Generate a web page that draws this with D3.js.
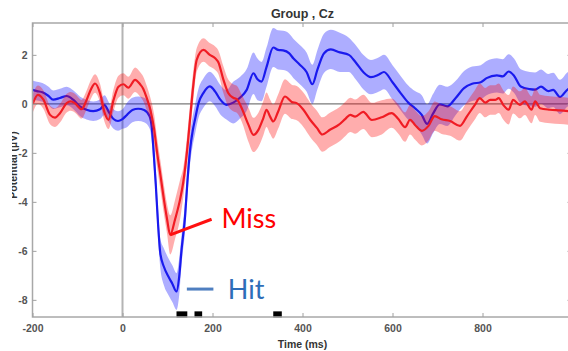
<!DOCTYPE html>
<html><head><meta charset="utf-8">
<script src="https://cdn.jsdelivr.net/npm/d3@7"></script>
<style>body{margin:0;background:#fff}svg{display:block}</style>
</head><body>
<svg id="c" width="568" height="351"></svg>
<script>
// ---- data ----
const hitTime = [-200,-190,-178,-165,-154,-139,-124,-109,
  -94,-80,-65,-50,-40,-30,-20,-10,0,
  10,22,35,48,60,
  65,69,74,79,84,
  92,102,111,120,126,
  131,139,144,150,156,161,
  169,180,194,206,217,231,
  246,261,276,291,300,
  309,320,335,346,357,370,380,394,409,422,433,448,463,483,
  503,518,535,552,570,581,600,618,635,650,
  665,677,690,705,722,
  740,759,777,796,809,832,845,858,870,885,905,917,930,946,957,972,990,1000];
const hitMean = [0.57,0.52,0.47,0.33,0.17,0.24,0.32,0.16,
  -0.11,-0.24,-0.30,-0.22,-0.05,-0.35,-0.62,-0.70,-0.62,
  -0.45,-0.25,-0.20,-0.25,-0.50,
  -0.95,-1.9,-3.3,-4.9,-6.1,
  -6.65,-7.05,-7.35,-7.66,-7.05,
  -6.0,-4.6,-3.24,-1.9,-1.1,-0.65,
  0.03,0.45,0.71,0.50,0.18,-0.04,
  0.05,0.25,0.57,1.25,1.00,
  0.91,1.50,2.30,2.20,2.18,2.07,1.85,1.60,1.30,0.80,1.39,2.07,2.22,2.10,
  2.00,1.70,1.30,1.09,1.20,1.30,0.88,0.44,0.05,-0.18,
  -0.45,-0.82,-0.40,-0.02,-0.10,
  0.23,0.64,0.82,0.88,1.05,1.16,1.12,1.32,1.15,0.71,0.60,0.58,0.70,0.52,0.57,0.28,0.60,0.65];
const hitErr = [0.38,0.38,0.38,0.38,0.38,0.38,0.38,0.38,
  0.4,0.4,0.4,0.4,0.4,0.4,0.4,0.4,0.4,
  0.5,0.5,0.5,0.5,0.5,
  0.6,0.6,0.6,0.6,0.6,
  0.75,0.75,0.75,0.75,0.75,
  0.6,0.6,0.6,0.6,0.6,0.6,
  0.6,0.6,0.6,0.6,0.6,0.6,
  0.85,0.85,0.85,0.85,0.85,
  0.8,0.8,0.8,0.8,0.8,0.8,0.8,0.8,0.8,0.8,0.8,0.8,0.8,0.8,
  0.7,0.7,0.7,0.7,0.7,0.7,0.7,0.7,0.7,0.7,
  0.8,0.8,0.8,0.8,0.8,
  0.7,0.7,0.7,0.7,0.7,0.7,0.7,0.7,0.7,0.7,0.7,0.7,0.7,0.7,0.7,0.7,0.7,0.7];

const missTime = [-200,-188,-176,-161,-150,-139,-124,-115,-106,-91,
  -80,-70,-61,-50,-40,-31,-20,-9,2,13,
  28,39,46,54,62,70,77,85,92,99,
  106,117,128,135,143,150,157,165,180,194,
  206,213,224,235,246,254,265,280,291,302,
  313,320,328,335,346,361,376,387,402,417,
  432,444,461,481,496,506,517,535,554,576,
  598,613,628,639,650,665,680,694,709,728,
  750,765,783,794,806,817,828,836,846,858,
  868,883,894,909,917,928,950,972,1000];
const missMean = [-0.02,0.37,0.18,-0.45,-0.56,-0.38,0.03,0.10,0.03,-0.22,
  0.15,0.60,0.83,0.44,-0.35,-0.65,0.15,0.70,0.80,0.66,
  0.98,0.80,0.62,0.23,-0.25,-1.0,-2.0,-3.0,-3.9,-4.7,
  -5.35,-4.7,-3.9,-3.2,-2.0,-0.65,0.70,1.80,2.20,2.00,
  1.86,1.70,1.00,0.44,0.25,0.19,-0.18,-0.86,-1.27,-1.06,
  -0.58,-0.24,-0.52,-0.72,-0.31,0.30,0.08,0.03,-0.24,-0.65,
  -0.98,-1.25,-1.06,-0.85,-0.60,-0.45,-0.52,-0.33,-0.66,-0.55,
  -0.38,-0.62,-0.95,-0.65,-0.86,-1.10,-0.90,-0.50,-0.63,-0.70,
  -0.90,-0.52,-0.04,0.23,0.05,0.16,0.16,0.23,-0.04,-0.24,
  0.16,-0.04,0.10,-0.24,0.10,-0.18,-0.24,-0.27,-0.32];
const missErr = [0.38,0.38,0.38,0.38,0.38,0.38,0.38,0.38,0.38,0.38,
  0.38,0.38,0.38,0.38,0.38,0.38,0.45,0.45,0.45,0.45,
  0.5,0.5,0.5,0.5,0.5,0.6,0.6,0.6,0.6,0.6,
  0.8,0.8,0.8,0.6,0.6,0.6,0.6,0.48,0.48,0.48,
  0.48,0.48,0.55,0.55,0.55,0.55,0.55,0.7,0.7,0.7,
  0.7,0.7,0.7,0.7,0.7,0.7,0.7,0.7,0.7,0.7,
  0.7,0.7,0.7,0.7,0.7,0.7,0.7,0.7,0.7,0.7,
  0.6,0.6,0.6,0.6,0.6,0.6,0.6,0.6,0.6,0.6,
  0.6,0.6,0.6,0.6,0.6,0.6,0.6,0.6,0.6,0.6,
  0.55,0.55,0.55,0.55,0.55,0.55,0.55,0.55,0.55];

const sigStart = [120,160,335];
const sigEnd   = [144,177,354];

const xTicks = [-200,0,200,400,600,800,1000];
const xTickLabels = ["-200","0","200","400","600","800",""];
const yTicks = [-8,-6,-4,-2,0,2];
const yTickLabels = ["-8","-6","-4","-2","0","2"];

const titleText = "Group , Cz";
const xLabel = "Time (ms)";
const yLabel = "Potential (\u00b5V)";

// annotation callouts (data units)
const missNote = {label:"Miss", textT:220, textV:-5.07, fromT:106, fromV:-5.35, toT:198, toV:-4.71};
const hitNote  = {label:"Hit",  textT:234, textV:-7.97, fromT:143, fromV:-7.56, toT:202, toV:-7.56};

// ---- drawing ----
const svg = d3.select("#c");
const L = 32.5, R = 572.5, T = 23, B = 317;
const x = d3.scaleLinear().domain([-200,1000]).range([L,R]);
const y = d3.scaleLinear().domain([-8.7,3.3]).range([B,T]);

svg.append("defs").append("clipPath").attr("id","plot")
  .append("rect").attr("x",L).attr("y",T).attr("width",R-L).attr("height",B-T);
svg.select("defs").append("clipPath").attr("id","ylab")
  .append("rect").attr("x",12).attr("y",0).attr("width",30).attr("height",351);

const font = "'Liberation Sans', Arial, sans-serif";

// zero lines
svg.append("line").attr("x1",x(0)).attr("x2",x(0)).attr("y1",T).attr("y2",B)
  .attr("stroke","#b4b4b4").attr("stroke-width",2);

const g = svg.append("g").attr("clip-path","url(#plot)");
g.append("line").attr("x1",L).attr("x2",R).attr("y1",y(0)).attr("y2",y(0))
  .attr("stroke","#7a7a7a").attr("stroke-width",1.2);

function series(times, mean, err, bandCol, lineCol){
  const d = times.map((t,i)=>({t, m:mean[i], e:err[i]}));
  const area = d3.area().x(p=>x(p.t)).y0(p=>y(p.m-p.e)).y1(p=>y(p.m+p.e)).curve(d3.curveMonotoneX);
  const line = d3.line().x(p=>x(p.t)).y(p=>y(p.m)).curve(d3.curveMonotoneX);
  g.append("path").attr("d",area(d)).attr("fill",bandCol).attr("fill-opacity",0.32).attr("stroke","none");
  g.append("path").attr("d",line(d)).attr("fill","none").attr("stroke",lineCol).attr("stroke-width",2.2);
}
series(hitTime, hitMean, hitErr, "#0000ff", "#1a1aee");
series(missTime, missMean, missErr, "#ff0000", "#f01c24");

// significance bars
svg.selectAll("rect.sig").data(sigStart).enter().append("rect").attr("class","sig")
  .attr("x",(d)=>x(d)).attr("width",(d,i)=>x(sigEnd[i])-x(d))
  .attr("y",y(-8.47)).attr("height",y(-8.72)-y(-8.47))
  .attr("fill","#000");

// box
svg.append("rect").attr("x",L).attr("y",T).attr("width",R-L).attr("height",B-T)
  .attr("fill","none").attr("stroke","#a8a8a8").attr("stroke-width",1.5);

// axes
const xa = svg.append("g").attr("transform",`translate(0,${B})`)
  .call(d3.axisBottom(x).tickValues(xTicks).tickFormat((d,i)=>xTickLabels[i]).tickSize(-4).tickPadding(8));
const xt = svg.append("g").attr("transform",`translate(0,${T})`)
  .call(d3.axisTop(x).tickValues(xTicks).tickFormat("").tickSize(-4));
const ya = svg.append("g").attr("transform",`translate(${L},0)`)
  .call(d3.axisLeft(y).tickValues(yTicks).tickFormat((d,i)=>yTickLabels[i]).tickSize(-4).tickPadding(5));
const yr = svg.append("g").attr("transform",`translate(${R},0)`)
  .call(d3.axisRight(y).tickValues(yTicks).tickFormat("").tickSize(-5));
[xa,xt,ya,yr].forEach(a=>{
  a.select(".domain").remove();
  a.selectAll(".tick line").attr("stroke","#a0a0a0").attr("stroke-width",1);
  a.selectAll(".tick text").attr("fill","#555").attr("font-family",font)
   .attr("font-size",10.5).attr("font-weight","bold");
});

// title & labels
svg.append("text").attr("x",(L+R)/2).attr("y",18).attr("text-anchor","middle")
  .attr("font-family",font).attr("font-weight","bold").attr("font-size",12.5).attr("fill","#333")
  .text(titleText);
svg.append("text").attr("x",(L+R)/2).attr("y",348).attr("text-anchor","middle")
  .attr("font-family",font).attr("font-weight","bold").attr("font-size",10.5).attr("fill","#333")
  .text(xLabel);
svg.append("g").attr("clip-path","url(#ylab)")
  .append("text").attr("transform","translate(17,165) rotate(-90)").attr("text-anchor","middle")
  .attr("font-family",font).attr("font-weight","bold").attr("font-size",10.5).attr("fill","#333")
  .text(yLabel);

// callouts
const noteFont = "Lato, 'Open Sans', sans-serif";
svg.append("line").attr("x1",x(missNote.fromT)).attr("y1",y(missNote.fromV))
  .attr("x2",x(missNote.toT)).attr("y2",y(missNote.toV))
  .attr("stroke","#ff1010").attr("stroke-width",3);
svg.append("text").attr("x",x(missNote.textT)).attr("y",y(missNote.textV))
  .attr("font-family",noteFont).attr("font-size",27).attr("fill","#ff0000").text(missNote.label);
svg.append("line").attr("x1",x(hitNote.fromT)).attr("y1",y(hitNote.fromV))
  .attr("x2",x(hitNote.toT)).attr("y2",y(hitNote.toV))
  .attr("stroke","#4f7fc0").attr("stroke-width",3);
svg.append("text").attr("x",x(hitNote.textT)).attr("y",y(hitNote.textV))
  .attr("font-family",noteFont).attr("font-size",27).attr("fill","#2e6db8").text(hitNote.label);
</script>
</body></html>
